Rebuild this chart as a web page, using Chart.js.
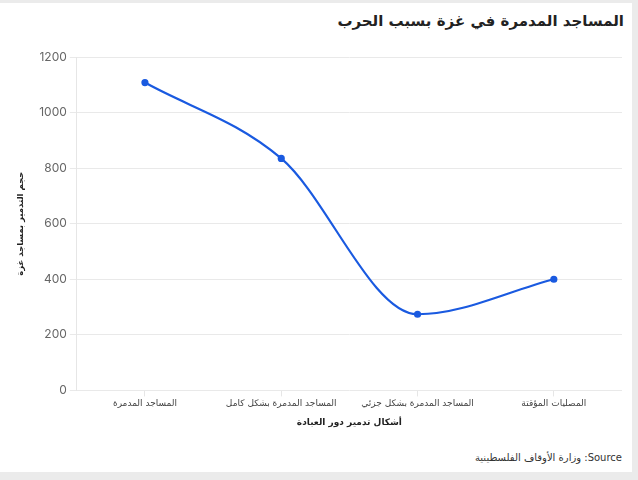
<!DOCTYPE html>
<html>
<head>
<meta charset="utf-8">
<script src="https://cdn.jsdelivr.net/npm/chart.js@4.4.1/dist/chart.umd.min.js"></script>
<style>
  html, body { margin: 0; padding: 0; background: #ebebeb; width: 638px; height: 480px; overflow: hidden; }
  #card { position: absolute; left: 0; top: 3px; width: 632px; height: 469px; background: #fff; }
  #title { position: absolute; right: 8px; top: 9px; font-family: 'DejaVu Sans', sans-serif; font-weight: bold; font-size: 15px; color: #222; direction: rtl; white-space: nowrap; }
  #source { position: absolute; right: 16px; top: 452px; font-family: 'DejaVu Sans', sans-serif; font-size: 10px; color: #333; direction: ltr; unicode-bidi: isolate; white-space: nowrap; }
  #wrap { position: absolute; left: 0; top: 40px; width: 632px; height: 400px; }
</style>
</head>
<body>
<div id="card">
  <div id="title">المساجد المدمرة في غزة بسبب الحرب</div>
  <div id="wrap"><canvas id="c"></canvas></div>
</div>
<div id="source">وزارة الأوقاف الفلسطينية :Source</div>
<script>
const categories = ["المساجد المدمرة", "المساجد المدمرة بشكل كامل", "المساجد المدمرة بشكل جزئي", "المصليات المؤقتة"];
const values = [1108, 835, 274, 400];
const yTicks = [0, 200, 400, 600, 800, 1000, 1200];
const xTitle = "أشكال تدمير دور العبادة";
const yTitle = "حجم التدمير بمساجد غزة";

const blue = '#1a5ae0';
new Chart(document.getElementById('c'), {
  type: 'line',
  data: {
    labels: categories,
    datasets: [{
      data: values,
      borderColor: blue,
      backgroundColor: blue,
      borderWidth: 2.2,
      pointRadius: 2.5,
      pointHoverRadius: 2.5,
      cubicInterpolationMode: 'monotone',
      fill: false
    }]
  },
  options: {
    responsive: true,
    maintainAspectRatio: false,
    animation: false,
    layout: { padding: { top: 14, right: 10, left: 12, bottom: 11 } },
    plugins: { legend: { display: false }, tooltip: { enabled: false } },
    scales: {
      x: {
        offset: true,
        grid: { drawOnChartArea: false, offset: false, tickLength: 6, color: '#e6e6e6' },
        border: { display: false },
        ticks: { color: '#444', font: { family: "'DejaVu Sans', sans-serif", size: 9 }, maxRotation: 0, padding: 2 },
        title: { display: true, text: xTitle, color: '#222', font: { family: "'DejaVu Sans', sans-serif", size: 9, weight: 'bold' }, padding: { top: 6 } }
      },
      y: {
        min: 0, max: 1200,
        afterBuildTicks: (s) => { s.ticks = yTicks.map(v => ({ value: v })); },
        grid: { color: '#e9e9e9', tickLength: 7 },
        border: { color: '#e6e6e6' },
        ticks: { color: '#666', font: { family: "Inter, 'DejaVu Sans', sans-serif", size: 12 }, padding: 3, callback: (v) => String(v) },
        title: { display: true, text: yTitle, color: '#222', font: { family: "'DejaVu Sans', sans-serif", size: 8.5, weight: 'bold' }, padding: { bottom: 10 } }
      }
    }
  }
});
</script>
</body>
</html>
